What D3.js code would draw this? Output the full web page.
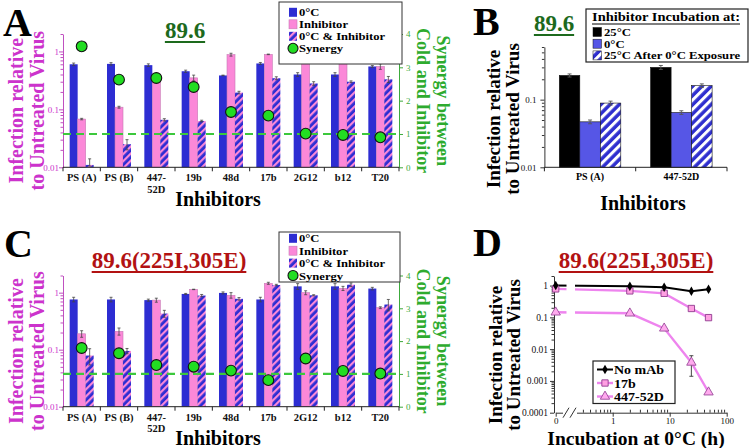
<!DOCTYPE html>
<html><head><meta charset="utf-8">
<script src="https://cdn.jsdelivr.net/npm/d3@7"></script>
<style>
body{margin:0;background:#fff}
svg{display:block}
text{font-family:"Liberation Serif","Times New Roman",serif}
</style>
</head><body>
<svg id="c" width="750" height="448"></svg>
<script>
// ---------------- DATA ----------------
const inhibitors = ["PS (A)","PS (B)","447-52D","19b","48d","17b","2G12","b12","T20"];
const inhibitorTickLabels = [["PS (A)"],["PS (B)"],["447-","52D"],["19b"],["48d"],["17b"],["2G12"],["b12"],["T20"]];
const seriesNamesAC = ["0°C","Inhibitor","0°C & Inhibitor","Synergy"];
const acYTicks = [0.01,0.1,1];
const acYTickLabels = ["0.01","0.1","1"];
const acYDomain = [0.01,2];
const synTicks = [0,1,2,3,4];
const synDomain = [0,4];
const synergyRef = 1;

// Panel A (89.6)
const aCold     = [0.60,0.61,0.58,0.455,0.385,0.62,0.40,0.40,0.55];
const aColdErr  = [0.03,0.03,0.03,0.02,0.005,0.025,0.03,0.03,0.02];
const aInhib    = [0.068,0.109,0.33,0.35,0.88,0.89,0.745,0.75,0.55];
const aInhibErr = [0.002,0.004,0.02,0.04,0.05,0.01,0.04,0.02,0.06];
const aBoth     = [0.011,0.025,0.066,0.063,0.195,0.345,0.28,0.30,0.33];
const aBothErr  = [0.003,0.005,0.003,0.002,0.01,0.02,0.02,0.01,0.04];
const aSynergy  = [3.63,2.63,2.68,2.41,1.66,1.55,1.01,0.97,0.90];

// Panel C (89.6(225I,305E))
const cCold     = [0.76,0.76,0.74,0.95,0.99,0.76,1.29,1.29,1.18];
const cColdErr  = [0.07,0.07,0.03,0.02,0.04,0.07,0.15,0.15,0.06];
const cInhib    = [0.19,0.21,0.74,1.14,0.90,1.46,1.0,1.19,0.545];
const cInhibErr = [0.025,0.03,0.06,0.01,0.1,0.06,0.08,0.1,0.02];
const cBoth     = [0.079,0.095,0.43,0.89,0.78,1.36,0.90,1.38,0.62];
const cBothErr  = [0.025,0.01,0.06,0.04,0.04,0.04,0.02,0.1,0.14];
const cSynergy  = [1.79,1.63,1.27,1.22,1.10,0.81,1.47,1.09,1.01];

// Panel B
const bInhibitors = ["PS (A)","447-52D"];
const bSeriesNames = ["25°C","0°C","25°C After 0°C Exposure"];
const b25      = [0.228,0.30];
const b25Err   = [0.012,0.02];
const b0       = [0.047,0.0645];
const b0Err    = [0.003,0.004];
const bAfter   = [0.089,0.161];
const bAfterErr= [0.006,0.01];
const bYTicks = [0.01,0.1];
const bYTickLabels = ["0.01","0.1"];
const bYDomain = [0.01,0.6];

// Panel D
const dHours = [0,2,8,24,48];
const dNoMab = [1.0,0.95,0.885,0.66,0.77];
const d17b   = [0.785,0.68,0.57,0.19,0.098];
const d447   = [0.144,0.134,0.045,0.0038,0.00044];
const d447Err= [0,0,0,0.0024,0];
const dSeriesNames = ["No mAb","17b","447-52D"];
const dYTicks = [0.0001,0.001,0.01,0.1,1];
const dYTickLabels = ["0.0001","0.001","0.01","0.1","1"];
const dYDomain = [0.0001,2];
const dXTicks = [0.1,1,10,100];
const dXTickLabels = ["0","1","10","100"];
const dXDomain = [0.1,100];

// ---------------- STYLE ----------------
const BLUE="#2d2dd2", PINK="#fb88d8", BLUE_LIGHT="#5656e6", GREEN_DOT="#22dd22",
      GREEN_DASH="#3cc83c", GREEN_AX="#3caa3c", GREEN_LABEL="#2eab2e",
      MAGENTA="#cc33cc", TITLE_GREEN="#1d6a1d", TITLE_RED="#b21212", VIOLET="#ee84ee";

const svg = d3.select("#c");
const defs = svg.append("defs");
function hatch(id, base, stripe, w, sw){
  const p = defs.append("pattern").attr("id",id).attr("patternUnits","userSpaceOnUse")
    .attr("width",w).attr("height",w).attr("patternTransform","rotate(45)");
  p.append("rect").attr("width",w).attr("height",w).attr("fill",base);
  p.append("rect").attr("width",sw).attr("height",w).attr("fill",stripe);
}
hatch("hAC", BLUE, PINK, 5, 2.2);
hatch("hB", "#2f2fcf", "#ffffff", 6.5, 3);

function isMajor(d){ return Math.abs(Math.log10(d)-Math.round(Math.log10(d)))<1e-6; }
function majorLabel(d, ticks, labels){
  const i = ticks.findIndex(t=>Math.abs(Math.log10(t)-Math.log10(d))<1e-6);
  return i>=0 ? labels[i] : "";
}
function styleLogAxis(g, color, labelColor){
  g.select(".domain").attr("stroke",color);
  g.selectAll(".tick line").attr("stroke",color).attr("x2", d=> -(isMajor(d)?4:2.5));
  g.selectAll(".tick text").attr("fill",labelColor).attr("font-size",9)
    .attr("font-family","Liberation Serif").attr("x",-4);
}
// legend text: width of a wider face, compact height
function legendText(x,y,txt,wideSize,size){
  const t = svg.append("text").attr("x",x).attr("y",y).attr("font-size",wideSize)
    .attr("font-weight","bold").text(txt);
  const w = t.node().getComputedTextLength();
  t.attr("font-size",size).attr("textLength",w).attr("lengthAdjust","spacingAndGlyphs");
  return t;
}
function underlinedTitle(x,y,text,color,size){
  const t = svg.append("text").attr("x",x).attr("y",y).attr("text-anchor","middle")
    .attr("font-size",size).attr("font-weight","bold").attr("fill",color).text(text);
  const w = t.node().getComputedTextLength();
  svg.append("line").attr("x1",x-w/2).attr("x2",x+w/2).attr("y1",y+4).attr("y2",y+4)
    .attr("stroke",color).attr("stroke-width",2);
}
function rtext(x,y,txt,angle,color,size){
  svg.append("text").attr("transform",`translate(${x},${y}) rotate(${angle})`)
    .attr("text-anchor","middle").attr("font-size",size).attr("font-weight","bold")
    .attr("fill",color).text(txt);
}
function letter(x,y,ch){
  svg.append("text").attr("x",x).attr("y",y).attr("font-size",40).attr("font-weight","bold")
    .attr("fill","#000").text(ch);
}
function errPath(cx,a,b,cap){ return `M${cx-cap},${a}H${cx+cap}M${cx},${a}V${b}M${cx-cap},${b}H${cx+cap}`; }

// ---------------- PANELS A & C ----------------
function barPanel(P){
  const x = d3.scaleBand().domain(inhibitors).range([P.x0,P.x1]);
  const y = d3.scaleLog().domain(acYDomain).range([P.yb,P.yt]);
  const y2 = d3.scaleLinear().domain(synDomain).range([P.yb,P.yt]);
  const bw = 8;
  const ser = [
    {v:P.cold, e:P.coldErr, fill:BLUE, off:-12, stroke:"none"},
    {v:P.inhib,e:P.inhibErr,fill:PINK, off:-4, stroke:"#c77bb5"},
    {v:P.both, e:P.bothErr, fill:"url(#hAC)", off:4, stroke:"none"}];
  ser.forEach(s=>{
    svg.append("g").selectAll("rect").data(inhibitors).join("rect")
      .attr("x",d=>x(d)+x.bandwidth()/2+s.off).attr("width",bw)
      .attr("y",(d,i)=>y(s.v[i])).attr("height",(d,i)=>P.yb-y(s.v[i]))
      .attr("fill",s.fill).attr("stroke",s.stroke).attr("stroke-width",0.6);
    svg.append("g").selectAll("path").data(inhibitors).join("path")
      .attr("d",(d,i)=>{const cx=x(d)+x.bandwidth()/2+s.off+bw/2;
        return errPath(cx, y(s.v[i]+s.e[i]), y(Math.max(s.v[i]-s.e[i],0.0105)), 1.5);})
      .attr("stroke","#444").attr("stroke-width",0.8).attr("fill","none");
  });
  // left axis
  const la = svg.append("g").attr("transform",`translate(${P.x0},0)`)
    .call(d3.axisLeft(y).tickValues(y.ticks()).tickSizeOuter(0)
      .tickFormat(d=>majorLabel(d,acYTicks,acYTickLabels)));
  styleLogAxis(la, "#c050c0", MAGENTA);
  // right axis
  const ra = svg.append("g").attr("transform",`translate(${P.x1},0)`)
    .call(d3.axisRight(y2).tickValues(synTicks).tickSize(4).tickSizeOuter(0).tickFormat(d3.format("d")));
  ra.select(".domain").attr("stroke",GREEN_AX);
  ra.selectAll(".tick line").attr("stroke",GREEN_AX);
  ra.selectAll(".tick text").attr("fill",GREEN_AX).attr("font-size",9).attr("font-family","Liberation Serif").attr("x",7);
  // bottom axis
  svg.append("line").attr("x1",P.x0).attr("x2",P.x1).attr("y1",P.yb).attr("y2",P.yb).attr("stroke","#222");
  svg.append("g").selectAll("line").data(d3.range(inhibitors.length+1)).join("line")
    .attr("x1",i=>P.x0+i*x.bandwidth()).attr("x2",i=>P.x0+i*x.bandwidth())
    .attr("y1",P.yb).attr("y2",P.yb+4).attr("stroke","#222");
  const tl = svg.append("g").selectAll("text").data(inhibitors).join("text")
    .attr("x",d=>x(d)+x.bandwidth()/2).attr("y",P.yb+14).attr("text-anchor","middle")
    .attr("font-size",10.5).attr("font-weight","bold").attr("fill","#111");
  tl.each(function(d,i){
    inhibitorTickLabels[i].forEach((ln,j)=>{
      d3.select(this).append("tspan").attr("x",x(d)+x.bandwidth()/2).attr("dy",j===0?0:11.5).text(ln);
    });
  });
  // dashed reference
  svg.append("line").attr("x1",P.x0).attr("x2",P.x1).attr("y1",y2(synergyRef)).attr("y2",y2(synergyRef))
    .attr("stroke",GREEN_DASH).attr("stroke-width",2.2).attr("stroke-dasharray","8,5");
  // synergy points
  svg.append("g").selectAll("circle").data(inhibitors).join("circle")
    .attr("cx",d=>x(d)+x.bandwidth()/2).attr("cy",(d,i)=>y2(P.syn[i])).attr("r",5.4)
    .attr("fill",GREEN_DOT).attr("stroke","#111").attr("stroke-width",1.1);
  // axis titles
  svg.append("text").attr("x",218).attr("y",P.yb+38.5).attr("text-anchor","middle")
    .attr("font-size",20).attr("font-weight","bold").text("Inhibitors");
  const cy = (P.yb+P.yt)/2;
  rtext(23,cy+10,"Infection relative",-90,MAGENTA,20);
  rtext(44,cy+10,"to Untreated Virus",-90,MAGENTA,20);
  rtext(437,cy,"Synergy between",90,GREEN_LABEL,18);
  rtext(417,cy,"Cold and Inhibitor",90,GREEN_LABEL,18);
  // legend
  const L = P.leg;
  svg.append("rect").attr("x",L.x).attr("y",L.y).attr("width",L.w).attr("height",L.h)
    .attr("fill","#fff").attr("stroke","#333").attr("stroke-width",1);
  const fills=[BLUE,PINK,"url(#hAC)"];
  seriesNamesAC.forEach((nm,i)=>{
    const cyy = L.y0 + i*L.dy;
    if(i<3){
      svg.append("rect").attr("x",L.x+10).attr("y",cyy-4.5).attr("width",8).attr("height",9)
        .attr("fill",fills[i]).attr("stroke",i===1?"#c77bb5":"none").attr("stroke-width",0.6);
    } else {
      svg.append("circle").attr("cx",L.x+14).attr("cy",cyy).attr("r",5)
        .attr("fill",GREEN_DOT).attr("stroke","#111").attr("stroke-width",1.1);
    }
    legendText(L.x+20, cyy+4, nm, 12.6, L.fs);
  });
}

barPanel({x0:63,x1:399,yb:167.3,yt:34,cold:aCold,coldErr:aColdErr,inhib:aInhib,inhibErr:aInhibErr,
  both:aBoth,bothErr:aBothErr,syn:aSynergy,leg:{x:279,y:2,w:123,h:62,y0:12.3,dy:12,fs:10.7}});
barPanel({x0:63,x1:399,yb:406.7,yt:275.5,cold:cCold,coldErr:cColdErr,inhib:cInhib,inhibErr:cInhibErr,
  both:cBoth,bothErr:cBothErr,syn:cSynergy,leg:{x:279,y:232,w:121,h:50,y0:238.3,dy:12.4,fs:11}});

letter(3,36,"A");
underlinedTitle(185,38,"89.6",TITLE_GREEN,23);
letter(4,257,"C");
underlinedTitle(169,268,"89.6(225I,305E)",TITLE_RED,23);

// ---------------- PANEL B ----------------
(function(){
  const x0=544.4, x1=727, yb=167.3, yt=47;
  const x = d3.scaleBand().domain(bInhibitors).range([x0,x1]);
  const y = d3.scaleLog().domain(bYDomain).range([yb,yt]);
  const bw = 20.5;
  const ser=[{v:b25,e:b25Err,fill:"#000",off:-1.5},{v:b0,e:b0Err,fill:BLUE_LIGHT,off:-0.5},{v:bAfter,e:bAfterErr,fill:"url(#hB)",off:0.5}];
  ser.forEach(s=>{
    svg.append("g").selectAll("rect").data(bInhibitors).join("rect")
      .attr("x",d=>x(d)+x.bandwidth()/2+s.off*bw).attr("width",bw)
      .attr("y",(d,i)=>y(s.v[i])).attr("height",(d,i)=>yb-y(s.v[i]))
      .attr("fill",s.fill).attr("stroke","#111").attr("stroke-width",0.6);
    svg.append("g").selectAll("path").data(bInhibitors).join("path")
      .attr("d",(d,i)=>{const cx=x(d)+x.bandwidth()/2+s.off*bw+bw/2;
        return errPath(cx,y(s.v[i]+s.e[i]),y(s.v[i]-s.e[i]),2);})
      .attr("stroke","#555").attr("stroke-width",0.9).attr("fill","none");
  });
  const la = svg.append("g").attr("transform",`translate(${x0},0)`)
    .call(d3.axisLeft(y).tickValues(y.ticks()).tickSizeOuter(0)
      .tickFormat(d=>majorLabel(d,bYTicks,bYTickLabels)));
  styleLogAxis(la,"#333","#111");
  la.selectAll(".tick text").attr("x",-8);
  svg.append("line").attr("x1",x0).attr("x2",x1).attr("y1",yb).attr("y2",yb).attr("stroke","#222");
  svg.append("g").selectAll("line").data(d3.range(bInhibitors.length+1)).join("line")
    .attr("x1",i=>x0+i*x.bandwidth()).attr("x2",i=>x0+i*x.bandwidth())
    .attr("y1",yb).attr("y2",yb+4).attr("stroke","#222");
  svg.append("g").selectAll("text").data(bInhibitors).join("text")
    .attr("x",d=>x(d)+x.bandwidth()/2).attr("y",yb+13).attr("text-anchor","middle")
    .attr("font-size",10).attr("font-weight","bold").text(d=>d);
  svg.append("text").attr("x",643).attr("y",210).attr("text-anchor","middle")
    .attr("font-size",20).attr("font-weight","bold").text("Inhibitors");
  rtext(500,119,"Infection relative",-90,"#000",19);
  rtext(519,119,"to Untreated Virus",-90,"#000",19);
  letter(473,35,"B");
  underlinedTitle(554,31,"89.6",TITLE_GREEN,23);
  // legend
  svg.append("rect").attr("x",586).attr("y",9).attr("width",162).attr("height",53)
    .attr("fill","#fff").attr("stroke","#222").attr("stroke-width",1.2);
  const tt = legendText(592,21,"Inhibitor Incubation at:",14.5,12.5);
  const tw = +tt.attr("textLength");
  svg.append("line").attr("x1",592).attr("x2",592+tw).attr("y1",24).attr("y2",24).attr("stroke","#000").attr("stroke-width",1.2);
  const fills=["#000",BLUE_LIGHT,"url(#hB)"];
  bSeriesNames.forEach((nm,i)=>{
    const cyy=32+i*11.7;
    svg.append("rect").attr("x",593).attr("y",cyy-4.5).attr("width",8.5).attr("height",9)
      .attr("fill",fills[i]).attr("stroke","#111").attr("stroke-width",0.5);
    legendText(604, cyy+4, nm, 12.7, 10.4);
  });
})();

// ---------------- PANEL D ----------------
(function(){
  const xl=554, yb=412.7, yt=276;
  const x = d3.scaleLog().domain(dXDomain).range([555.7,726.7]);
  const y = d3.scaleLog().domain(dYDomain).range([yb,yt]);
  const xPos = dHours.map(h=>h===0?dXDomain[0]:h);
  // axes
  const la = svg.append("g").attr("transform",`translate(${xl},0)`)
    .call(d3.axisLeft(y).tickValues(y.ticks()).tickSizeOuter(0)
      .tickFormat(d=>majorLabel(d,dYTicks,dYTickLabels)));
  styleLogAxis(la,"#333","#111");
  la.selectAll(".tick text").attr("font-size",9.5).attr("x",-6);
  const ba = svg.append("g").attr("transform",`translate(0,${yb})`)
    .call(d3.axisBottom(x).tickValues(x.ticks()).tickSizeOuter(0)
      .tickFormat(d=>majorLabel(d,dXTicks,dXTickLabels)));
  ba.select(".domain").attr("stroke","#333");
  ba.selectAll(".tick line").attr("stroke","#333").attr("y2",d=>isMajor(d)?4:-3);
  ba.selectAll(".tick text").attr("fill","#111").attr("font-size",9).attr("font-family","Liberation Serif").attr("y",5);
  // lines
  const line = d3.line().x((d,i)=>x(xPos[i])).y(d=>y(d));
  svg.append("path").datum(d447).attr("d",line).attr("fill","none").attr("stroke",VIOLET).attr("stroke-width",2.4);
  svg.append("path").datum(d17b).attr("d",line).attr("fill","none").attr("stroke",VIOLET).attr("stroke-width",2.4);
  svg.append("path").datum(dNoMab).attr("d",line).attr("fill","none").attr("stroke","#000").attr("stroke-width",2);
  // axis break gap
  svg.append("rect").attr("x",566.5).attr("y",yt).attr("width",8.5).attr("height",yb-yt+1).attr("fill","#fff");
  svg.append("rect").attr("x",563).attr("y",yb-6).attr("width",14).attr("height",11).attr("fill","#fff");
  svg.append("path").attr("d",`M563,${yb+5}L569,${yb-5}M570,${yb+5}L576,${yb-5}`)
    .attr("stroke","#333").attr("stroke-width",1).attr("fill","none");
  // error bars
  svg.append("g").selectAll("path").data(d3.range(d447.length).filter(i=>d447Err[i]>0)).join("path")
    .attr("d",i=>{const cx=x(xPos[i]);
      return errPath(cx,y(d447[i]+d447Err[i]),y(d447[i]-d447Err[i]),2);})
    .attr("stroke","#333").attr("stroke-width",0.9).attr("fill","none");
  // markers
  const sq = d3.symbol().type(d3.symbolSquare).size(40);
  const tri = d3.symbol().type(d3.symbolTriangle).size(38);
  const dia = d3.symbol().type(d3.symbolDiamond).size(26);
  svg.append("g").selectAll("path").data(d447).join("path")
    .attr("transform",(d,i)=>`translate(${x(xPos[i])},${y(d)})`).attr("d",tri)
    .attr("fill","#ffaaee").attr("stroke","#9a4a9a").attr("stroke-width",0.9);
  svg.append("g").selectAll("path").data(d17b).join("path")
    .attr("transform",(d,i)=>`translate(${x(xPos[i])},${y(d)})`).attr("d",sq)
    .attr("fill","#ff9fe2").attr("stroke","#8e3a8e").attr("stroke-width",0.9);
  svg.append("g").selectAll("path").data(dNoMab).join("path")
    .attr("transform",(d,i)=>`translate(${x(xPos[i])},${y(d)})`).attr("d",dia).attr("fill","#000");
  // legend
  svg.append("rect").attr("x",593).attr("y",361).attr("width",82).attr("height",42.5)
    .attr("fill","#fff").attr("stroke","#222").attr("stroke-width",1.2);
  const syms=[dia,sq,tri], cols=["#000",VIOLET,VIOLET], fills=["#000","#ff9fe2","#ffaaee"], strokes=["none","#8e3a8e","#9a4a9a"];
  dSeriesNames.forEach((nm,i)=>{
    const cyy=369.5+i*13.5;
    svg.append("line").attr("x1",597).attr("x2",613).attr("y1",cyy).attr("y2",cyy).attr("stroke",cols[i]).attr("stroke-width",i===0?2:2.4);
    svg.append("path").attr("transform",`translate(605,${cyy})`).attr("d",syms[i]).attr("fill",fills[i]).attr("stroke",strokes[i]).attr("stroke-width",0.9);
    legendText(614, cyy+4.5, nm, 14, 12);
  });
  svg.append("text").attr("x",636).attr("y",445).attr("text-anchor","middle")
    .attr("font-size",19.5).attr("font-weight","bold").text("Incubation at 0°C (h)");
  rtext(502,355,"Infection relative",-90,"#000",19);
  rtext(520,355,"to Untreated Virus",-90,"#000",19);
  letter(473,256,"D");
  underlinedTitle(636,268,"89.6(225I,305E)",TITLE_RED,23);
})();
</script>
</body></html>
